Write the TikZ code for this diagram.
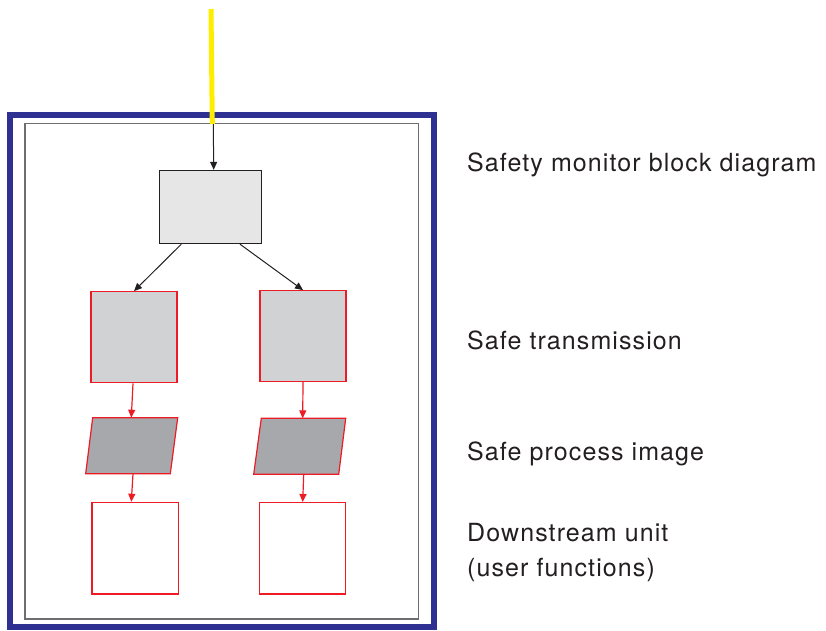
\documentclass[tikz,border=0pt]{standalone}
\usepackage{fontspec}
\setmainfont{TeX Gyre Heros}[LetterSpace=4.4]
\usetikzlibrary{arrows.meta}
\definecolor{frameblue}{HTML}{2E3192}
\definecolor{framegray}{HTML}{6D6E71}
\definecolor{ink}{HTML}{231F20}
\definecolor{redline}{HTML}{ED1C24}
\definecolor{yel}{HTML}{FFED00}
\definecolor{boxlight}{HTML}{E6E6E6}
\definecolor{boxmid}{HTML}{D1D2D4}
\definecolor{boxdark}{HTML}{A7A8AB}
\tikzset{
  blk/.style={draw=ink, line width=1pt, fill=boxlight, inner sep=0pt},
  redbox/.style={draw=redline, line width=1.2pt, inner sep=0pt, minimum width=86pt, minimum height=91pt},
  para/.style={draw=redline, line width=1.2pt, fill=boxdark, line join=miter},
  blkarrow/.style={draw=ink, line width=1pt, -{Triangle[length=8pt,width=7pt]}},
  redarrow/.style={draw=redline, line width=1.2pt, -{Triangle[length=8pt,width=7pt]}},
  lbl/.style={anchor=base west, inner sep=0pt, text=ink, font=\fontsize{25}{34.5}\selectfont, align=left}
}
\begin{document}
\begin{tikzpicture}[x=1pt,y=-1pt]
\useasboundingbox (0,0) rectangle (826,630);
% frames
\node[draw=frameblue, line width=6pt, minimum width=423.5pt, minimum height=512.5pt, inner sep=0pt] (outer) at (221.75,370.75) {};
\node[draw=framegray, line width=1.3pt, minimum width=393.7pt, minimum height=495.3pt, inner sep=0pt] (inner) at (221.85,371.35) {};
% input line
\coordinate (ytop) at (211,9);
\coordinate (ybot) at (212.3,124);
\draw[yel, line width=5pt] (ytop) -- (ybot);
% top block
\node[blk, minimum width=102pt, minimum height=73.4pt] (T) at (210.7,207) {};
\draw[blkarrow] ([xshift=1pt]ybot) -- ([xshift=3pt]T.north);
% safe transmission boxes
\node[redbox, fill=boxmid, minimum height=91pt] (L1) at (134,337.2) {};
\node[redbox, fill=boxmid, minimum height=90.6pt] (R1) at (303,336) {};
\draw[blkarrow] ([xshift=-29.4pt]T.south) -- (L1.north);
\draw[blkarrow] ([xshift=29.3pt]T.south) -- (R1.north);
% safe process image parallelograms
\draw[para] (92.7,417.7) -- (177.7,417.7) -- (170.3,473.7) -- (85.7,473.7) -- cycle;
\coordinate (L2in) at (131.3,417.7);
\coordinate (L2out) at (133,473.7);
\draw[para] (261.3,418.3) -- (345.7,418.3) -- (338.7,474.3) -- (253.7,474.3) -- cycle;
\coordinate (R2in) at (302.7,418.3);
\coordinate (R2out) at (303.7,474.3);
\draw[redarrow] ([xshift=-1pt]L1.south) -- (L2in);
\draw[redarrow] (R1.south) -- (R2in);
% downstream units
\node[redbox, fill=white, minimum width=86.3pt, minimum height=91.7pt] (L3) at (135.2,548.2) {};
\node[redbox, fill=white, minimum width=86.4pt, minimum height=91.3pt] (R3) at (302.5,548.3) {};
\draw[redarrow] (L2out) -- ([xshift=-3.9pt]L3.north);
\draw[redarrow] (R2out) -- ([xshift=0.2pt]R3.north);
% labels
\node[lbl] (t1) at (467,171) {Safety monitor block diagram};
\node[lbl] (t2) at (467,349.5) {Safe transmission};
\node[lbl] (t3) at (467,460) {Safe process image};
\node[lbl] (t4) at (467,576.2) {Downstream unit\\(user functions)};
\end{tikzpicture}
\end{document}
